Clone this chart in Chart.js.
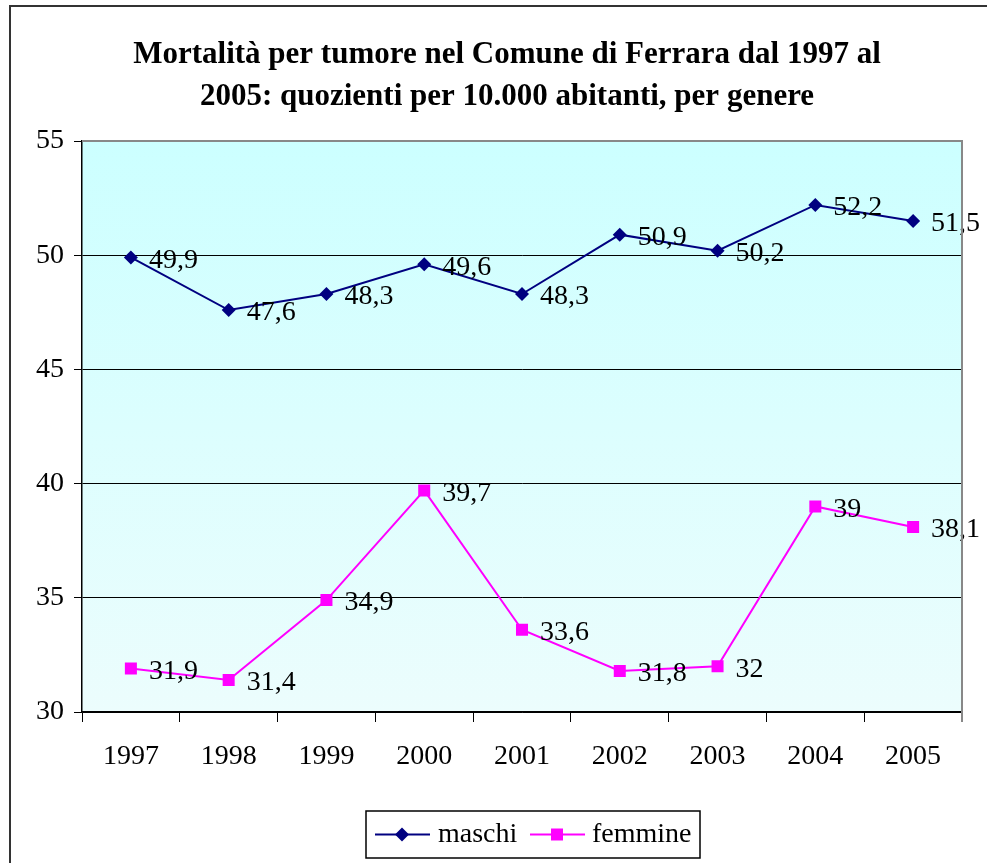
<!DOCTYPE html>
<html>
<head>
<meta charset="utf-8">
<title>Mortalità per tumore - Ferrara 1997-2005</title>
<script src="https://cdn.jsdelivr.net/npm/chart.js@4/dist/chart.umd.min.js"></script>
<style>
  html, body { margin: 0; padding: 0; background: #fff; }
  #wrap { position: relative; width: 987px; height: 863px; }
</style>
</head>
<body>
<div id="wrap"><canvas id="lineChart" width="987" height="863"></canvas></div>
<script>
// --- data ---
const anni = ['1997', '1998', '1999', '2000', '2001', '2002', '2003', '2004', '2005'];
const maschi = [49.9, 47.6, 48.3, 49.6, 48.3, 50.9, 50.2, 52.2, 51.5];
const femmine = [31.9, 31.4, 34.9, 39.7, 33.6, 31.8, 32, 39, 38.1];
const titolo = ['Mortalità per tumore nel Comune di Ferrara dal 1997 al',
                '2005: quozienti per 10.000 abitanti, per genere'];

const SERIF = '"Liberation Serif", "Times New Roman", serif';

// plot background (light cyan gradient) + gray top/right frame
const plotBg = {
    id: 'plotBg',
    beforeDraw(chart) {
        const { ctx, chartArea: a } = chart;
        ctx.save();
        const g = ctx.createLinearGradient(0, a.top, 0, a.bottom);
        g.addColorStop(0, '#ccffff');
        g.addColorStop(1, '#ecfdfd');
        ctx.fillStyle = g;
        ctx.fillRect(a.left, a.top, a.right - a.left, a.bottom - a.top);
        ctx.restore();
    },
    afterDraw(chart) {
        const { ctx, chartArea: a } = chart;
        ctx.save();
        ctx.strokeStyle = '#888';
        ctx.lineWidth = 2;
        ctx.beginPath();
        ctx.moveTo(a.left, a.top);
        ctx.lineTo(a.right, a.top);
        ctx.lineTo(a.right, a.bottom + 10);
        ctx.stroke();
        // outer frame (runs off the right/bottom edge)
        ctx.strokeStyle = '#333';
        ctx.beginPath();
        ctx.moveTo(10, 863);
        ctx.lineTo(10, 6);
        ctx.lineTo(987, 6);
        ctx.stroke();
        ctx.restore();
    }
};

// title drawn by hand so it can sit off-centre like the original
const titlePlugin = {
    id: 'titolo',
    afterDraw(chart) {
        const ctx = chart.ctx;
        ctx.save();
        ctx.font = 'bold 31px ' + SERIF;
        ctx.fillStyle = '#000';
        ctx.textAlign = 'center';
        ctx.textBaseline = 'middle';
        titolo.forEach((t, i) => ctx.fillText(t, 507, 55 + i * 42));
        ctx.restore();
    }
};

// value labels to the right of each point
const valueLabels = {
    id: 'valueLabels',
    afterDatasetsDraw(chart) {
        const ctx = chart.ctx;
        ctx.save();
        ctx.font = '28px ' + SERIF;
        ctx.fillStyle = '#000';
        ctx.textAlign = 'left';
        ctx.textBaseline = 'middle';
        chart.data.datasets.forEach((ds, i) => {
            chart.getDatasetMeta(i).data.forEach((pt, j) => {
                ctx.fillText(String(ds.data[j]).replace('.', ','), pt.x + 18, pt.y + 3);
            });
        });
        ctx.restore();
    }
};

// legend in a box at the bottom
const boxLegend = {
    id: 'boxLegend',
    afterDraw(chart) {
        const ctx = chart.ctx;
        const x0 = 366, y0 = 811, w = 334, h = 47;
        ctx.save();
        ctx.fillStyle = '#fff';
        ctx.fillRect(x0, y0, w, h);
        ctx.strokeStyle = '#000';
        ctx.lineWidth = 1.5;
        ctx.strokeRect(x0, y0, w, h);
        ctx.font = '28px ' + SERIF;
        ctx.textBaseline = 'middle';
        const cy = y0 + h / 2;
        const items = [[375, 438], [530, 592]];
        chart.data.datasets.forEach((ds, i) => {
            const [lx, tx] = items[i];
            const mx = lx + 27;
            ctx.strokeStyle = ds.borderColor;
            ctx.lineWidth = 2;
            ctx.beginPath();
            ctx.moveTo(lx, cy);
            ctx.lineTo(lx + 55, cy);
            ctx.stroke();
            ctx.fillStyle = ds.pointBackgroundColor;
            ctx.beginPath();
            if (ds.pointStyle === 'rectRot') {
                ctx.moveTo(mx - 7, cy);
                ctx.lineTo(mx, cy - 7);
                ctx.lineTo(mx + 7, cy);
                ctx.lineTo(mx, cy + 7);
                ctx.closePath();
            } else {
                ctx.rect(mx - 6, cy - 6, 12, 12);
            }
            ctx.fill();
            ctx.fillStyle = '#000';
            ctx.fillText(ds.label, tx, cy);
        });
        ctx.restore();
    }
};

new Chart(document.getElementById('lineChart'), {
    type: 'line',
    data: {
        labels: anni,
        datasets: [
            {
                label: 'maschi',
                data: maschi,
                borderColor: '#000080',
                backgroundColor: '#000080',
                pointBackgroundColor: '#000080',
                pointBorderWidth: 0,
                pointStyle: 'rectRot',
                pointRadius: 7,
                borderWidth: 2,
                tension: 0
            },
            {
                label: 'femmine',
                data: femmine,
                borderColor: '#ff00ff',
                backgroundColor: '#ff00ff',
                pointBackgroundColor: '#ff00ff',
                pointBorderWidth: 0,
                pointStyle: 'rect',
                pointRadius: 8.5,
                borderWidth: 2,
                tension: 0
            }
        ]
    },
    options: {
        responsive: false,
        animation: false,
        events: [],
        layout: { padding: { top: 141, left: 10, right: 25, bottom: 91 } },
        plugins: {
            legend: { display: false },
            title: { display: false },
            tooltip: { enabled: false }
        },
        scales: {
            y: {
                min: 30,
                max: 55,
                afterFit: (s) => { s.width = 72; },
                ticks: {
                    stepSize: 5,
                    padding: 10,
                    color: '#000',
                    font: { family: SERIF, size: 28 }
                },
                grid: { color: '#000', lineWidth: 1, tickLength: 8, drawOnChartArea: true },
                border: { display: true, color: '#000', width: 1.5 }
            },
            x: {
                offset: true,
                afterFit: (s) => { s.height = 60; },
                ticks: {
                    padding: 18,
                    color: '#000',
                    font: { family: SERIF, size: 28 }
                },
                grid: { offset: true, drawOnChartArea: false, color: '#000', tickLength: 10 },
                border: { display: true, color: '#000', width: 1.5 }
            }
        }
    },
    plugins: [plotBg, titlePlugin, valueLabels, boxLegend]
});
</script>
</body>
</html>
